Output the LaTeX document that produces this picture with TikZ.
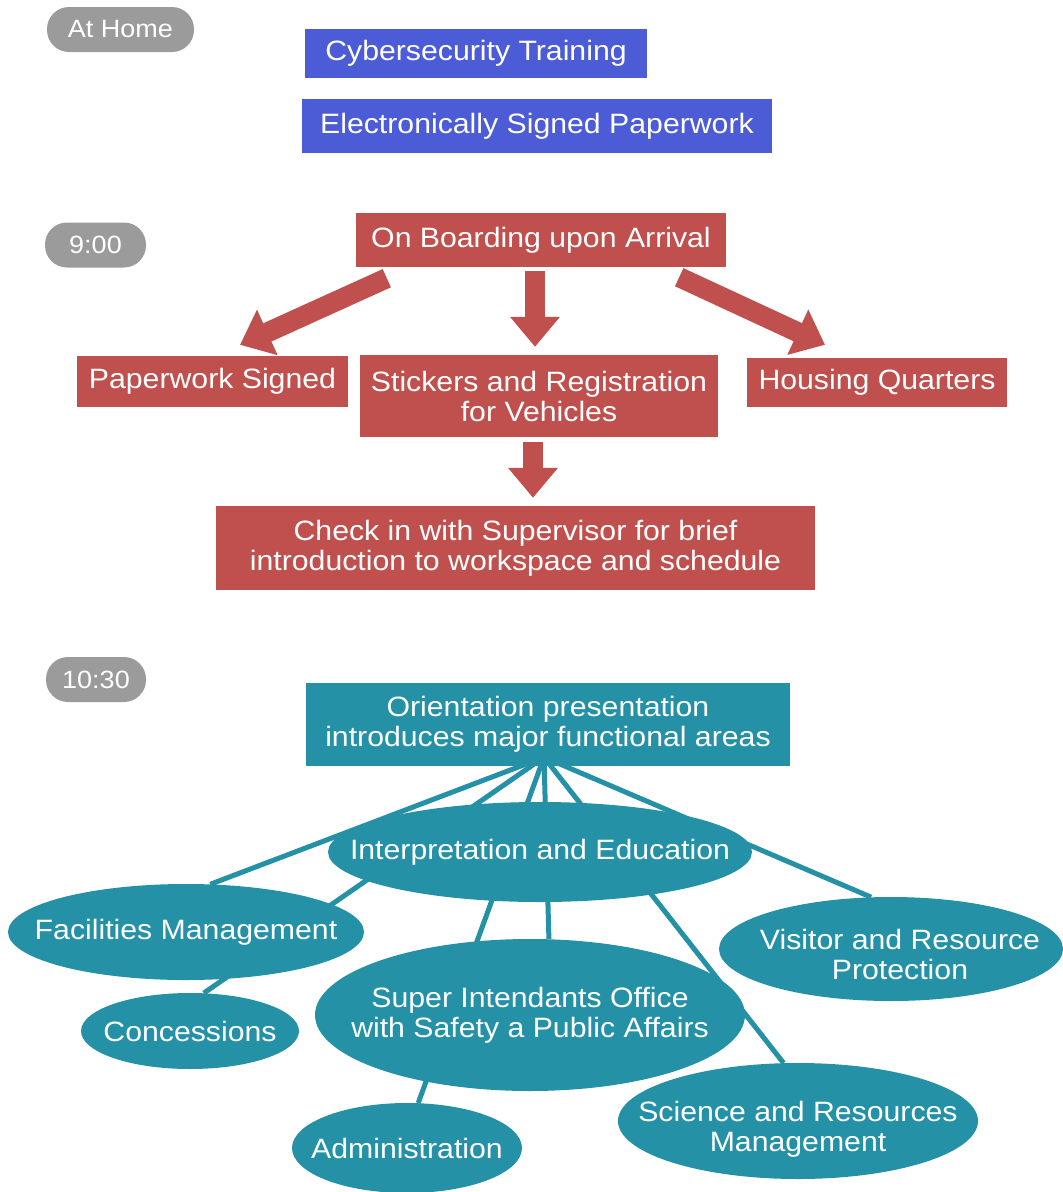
\documentclass[tikz,border=0pt]{standalone}
\usepackage{fontspec}
\setmainfont{Liberation Sans}[FakeStretch=1.08]
\usepackage{tikz}
\usetikzlibrary{shapes.geometric,arrows.meta,backgrounds}

\definecolor{pillgray}{RGB}{155,155,155}
\definecolor{homeblue}{RGB}{76,91,214}
\definecolor{arrivered}{RGB}{192,80,77}
\definecolor{orientteal}{RGB}{36,145,167}

\begin{document}
\begin{tikzpicture}[
  x=1pt, y=-1pt,
  pill/.style={rectangle, fill=pillgray, rounded corners=22pt,
    minimum height=45pt, inner sep=0pt, text=white,
    font=\fontsize{25}{27}\selectfont},
  bluebox/.style={rectangle, fill=homeblue, inner sep=0pt,
    text=white, font=\fontsize{28}{30}\selectfont},
  redbox/.style={rectangle, fill=arrivered, inner sep=0pt, align=center,
    text=white, font=\fontsize{28}{30}\selectfont},
  tealbox/.style={rectangle, fill=orientteal, inner sep=0pt, align=center,
    text=white, font=\fontsize{28}{30}\selectfont},
  area/.style={ellipse, fill=orientteal, inner sep=0pt},
  atext/.style={text=white, align=center, font=\fontsize{28}{30}\selectfont},
  fatarrow/.style={-{Triangle[width=48pt,length=30pt]}, line width=20pt, draw=arrivered},
  spoke/.style={draw=orientteal, line width=5pt}
]
\useasboundingbox (0,0) rectangle (1063,1192);

% at home
\node[pill, minimum width=147pt] (home) at (120.5,29.5) {At Home};
\node[bluebox, minimum width=342pt, minimum height=49pt] (cyber) at (476,53.5) {Cybersecurity Training};
\node[bluebox, minimum width=470pt, minimum height=54pt] (esign) at (537,126) {Electronically Signed Paperwork};

% 9:00
\node[pill, minimum width=101pt] (nine) at (95.5,245) {9:00};
\node[redbox, minimum width=370pt, minimum height=54pt] (board) at (541,240) {On Boarding upon Arrival};
\node[redbox, minimum width=271pt, minimum height=51pt] (paper) at (212.5,381.5) {Paperwork Signed};
\node[redbox, minimum width=358pt, minimum height=82pt] (stick) at (539,396) {Stickers and Registration\\for Vehicles};
\node[redbox, minimum width=260pt, minimum height=49pt] (house) at (877,382.5) {Housing Quarters};
\node[redbox, minimum width=599pt, minimum height=84pt] (check) at (515.5,548) {Check in with Supervisor for brief\\introduction to workspace and schedule};
\draw[fatarrow] ([shift={(31,11)}]board.south west) -- ([shift={(27.5,-11)}]paper.north);
\draw[fatarrow] ([shift={(-6,4)}]board.south) -- ([shift={(-4,-8)}]stick.north);
\draw[fatarrow] ([shift={(-47,10)}]board.south east) -- ([shift={(-52,-13)}]house.north);
\draw[fatarrow] ([shift={(-6,5)}]stick.south) -- ([shift={(17.5,-8)}]check.north);

% 10:30
\node[pill, minimum width=100pt] (ten) at (96,679.5) {10:30};
\node[tealbox, minimum width=484pt, minimum height=83pt] (orient) at (548,724.5) {Orientation presentation\\introduces major functional areas};
\node[area, minimum width=424pt, minimum height=100pt, label={[atext]center:Interpretation and Education}] (interp) at (540,852) {};
\node[area, minimum width=356pt, minimum height=96pt, label={[atext]center:Facilities Management}] (fac) at (186,932) {};
\node[area, minimum width=344pt, minimum height=104pt, label={[atext, yshift=-5pt, xshift=9pt]center:Visitor and Resource\\Protection}] (visit) at (891,949) {};
\node[area, minimum width=430pt, minimum height=152pt, label={[atext]center:Super Intendants Office\\ with Safety a Public Affairs}] (super) at (530,1015) {};
\node[area, minimum width=218pt, minimum height=76pt, label={[atext]center:Concessions}] (conc) at (190,1031) {};
\node[area, minimum width=230pt, minimum height=90pt, label={[atext]center:Administration}] (admin) at (407,1148) {};
\node[area, minimum width=360pt, minimum height=116pt, label={[atext, yshift=-8pt]center:Science and Resources\\Management}] (sci) at (798,1121) {};
\begin{scope}[on background layer]
  \foreach \tgt/\ang in {fac/63, conc/70, admin/76, super/76, sci/104, visit/111}
    \draw[spoke] ([shift={(-4,-9)}]orient.south) -- (\tgt.\ang);
\end{scope}
\end{tikzpicture}
\end{document}
